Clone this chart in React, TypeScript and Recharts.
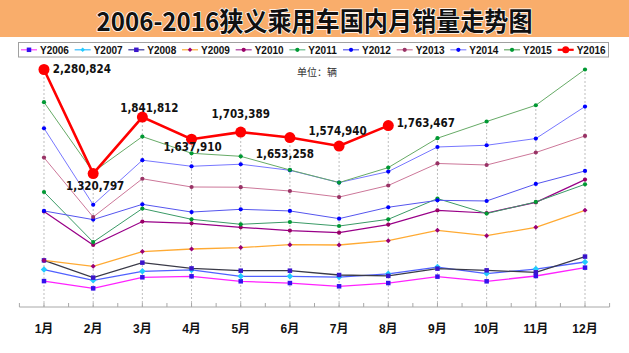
import React from 'react';
import { LineChart, Line, XAxis, YAxis, ReferenceLine, LabelList } from 'recharts';

const months = ['1月', '2月', '3月', '4月', '5月', '6月', '7月', '8月', '9月', '10月', '11月', '12月'];

const y2006 = [329000, 262000, 364000, 373000, 327000, 311000, 281000, 311000, 370000, 327000, 376000, 453000];
const y2007 = [435000, 336000, 419000, 432000, 373000, 373000, 366000, 396000, 458000, 398000, 440000, 505000];
const y2008 = [520000, 361000, 499000, 446000, 425000, 425000, 385000, 377000, 444000, 428000, 410000, 555000];
const y2009 = [520000, 465000, 601000, 625000, 638000, 665000, 662000, 702000, 797000, 748000, 825000, 982000];
const y2010 = [972000, 662000, 878000, 862000, 825000, 795000, 776000, 850000, 982000, 957000, 1055000, 1265000];
const y2011 = [1151000, 689000, 998000, 899000, 853000, 874000, 837000, 899000, 1090000, 952000, 1059000, 1222000];
const y2012 = [976000, 896000, 1037000, 966000, 991000, 976000, 905000, 1010000, 1074000, 1068000, 1225000, 1345000];
const y2013 = [1468000, 920000, 1273000, 1197000, 1195000, 1160000, 1104000, 1211000, 1414000, 1400000, 1515000, 1668000];
const y2014 = [1739000, 1033000, 1444000, 1388000, 1407000, 1351000, 1238000, 1339000, 1566000, 1582000, 1644000, 1939000];
const y2015 = [1979000, 1335000, 1662000, 1508000, 1480000, 1354000, 1238000, 1376000, 1647000, 1801000, 1951000, 2281000];
const y2016 = [2280824, 1320797, 1841812, 1637910, 1703389, 1653258, 1574940, 1763467];

const Y_DOMAIN: [number, number] = [90000, 2350000];

type Shape = 'square' | 'diamond' | 'circle';
interface Series {
  key: string;
  name: string;
  values: number[];
  line: string;
  legendLine: string;
  marker: string;
  shape: Shape;
  size: number;
  width: number;
}

const SERIES: Series[] = [
  { key: 'y2006', name: 'Y2006', values: y2006, line: '#ff22ff', legendLine: '#ff44ff', marker: '#3311ee', shape: 'square', size: 4.5, width: 1.3 },
  { key: 'y2007', name: 'Y2007', values: y2007, line: '#5060ff', legendLine: '#33bbff', marker: '#22ccff', shape: 'diamond', size: 6.5, width: 1.3 },
  { key: 'y2008', name: 'Y2008', values: y2008, line: '#3a3a48', legendLine: '#333399', marker: '#3a14cc', shape: 'square', size: 4.5, width: 1.3 },
  { key: 'y2009', name: 'Y2009', values: y2009, line: '#ffaa33', legendLine: '#ffaa33', marker: '#990077', shape: 'diamond', size: 5, width: 1.3 },
  { key: 'y2010', name: 'Y2010', values: y2010, line: '#990088', legendLine: '#aa3399', marker: '#990066', shape: 'circle', size: 4.2, width: 1.2 },
  { key: 'y2011', name: 'Y2011', values: y2011, line: '#3a9a66', legendLine: '#66bb88', marker: '#009933', shape: 'circle', size: 4.2, width: 1 },
  { key: 'y2012', name: 'Y2012', values: y2012, line: '#5555ee', legendLine: '#5555ee', marker: '#0000ff', shape: 'circle', size: 4.2, width: 1 },
  { key: 'y2013', name: 'Y2013', values: y2013, line: '#cc7799', legendLine: '#cc7799', marker: '#993366', shape: 'circle', size: 4.2, width: 1 },
  { key: 'y2014', name: 'Y2014', values: y2014, line: '#7777ff', legendLine: '#8888ff', marker: '#0000ff', shape: 'circle', size: 4.2, width: 1 },
  { key: 'y2015', name: 'Y2015', values: y2015, line: '#66aa66', legendLine: '#66aa66', marker: '#009933', shape: 'circle', size: 4.2, width: 1 },
  { key: 'y2016', name: 'Y2016', values: y2016, line: '#ff0000', legendLine: '#ff0000', marker: '#ff0000', shape: 'circle', size: 11, width: 2.6 },
];

const rows = months.map((label, i) => {
  const row: Record<string, any> = { m: i + 1, label };
  SERIES.forEach((s) => {
    row[s.key] = s.values[i] ?? null;
  });
  return row;
});

const monthMax = months.map((_, i) =>
  Math.max(...SERIES.map((s) => (s.values[i] == null ? -Infinity : s.values[i])))
);

const xTicks = Array.from({ length: months.length * 2 + 1 }, (_, k) => 0.5 + k * 0.5);

// label placement style (offsets relative to each red point)
const redLabelStyle = [
  { dx: 8.7, dy: 0, anchor: 'start' },
  { dx: 2, dy: 12.5, anchor: 'middle' },
  { dx: 7, dy: -9.5, anchor: 'middle' },
  { dx: 1, dy: 8, anchor: 'middle' },
  { dx: 0, dy: -18.5, anchor: 'middle' },
  { dx: -5, dy: 16, anchor: 'middle' },
  { dx: -1.5, dy: -15.5, anchor: 'middle' },
  { dx: 8.4, dy: -3, anchor: 'start' },
];

function markerEl(shape: Shape, x: number, y: number, size: number, fill: string, key?: string) {
  const h = size / 2;
  if (shape === 'square') return <rect key={key} x={x - h} y={y - h} width={size} height={size} fill={fill} />;
  if (shape === 'diamond')
    return <path key={key} d={`M${x} ${y - h}L${x + h} ${y}L${x} ${y + h}L${x - h} ${y}Z`} fill={fill} />;
  return <circle key={key} cx={x} cy={y} r={h} fill={fill} />;
}

function makeDot(s: Series) {
  return (p: any) => {
    const k = `${s.key}-${p.index}`;
    if (p.cx == null || p.cy == null || p.value == null || Number.isNaN(p.cy)) return <g key={k} />;
    return markerEl(s.shape, p.cx, p.cy, s.size, s.marker, k);
  };
}

const renderMonthTick = (p: any) => {
  const v = p.payload?.value;
  if (!Number.isInteger(v)) return <g />;
  return (
    <text
      x={p.x}
      y={p.y}
      dy={30}
      textAnchor="middle"
      fontSize={12}
      fontWeight="bold"
      fontFamily="'Liberation Sans', 'Noto Sans CJK SC', sans-serif"
      fill="#111"
    >
      {months[v - 1]}
    </text>
  );
};

const renderRedLabel = (p: any) => {
  const st = redLabelStyle[p.index];
  if (!st || p.value == null) return <g />;
  return (
    <text
      x={p.x + st.dx}
      y={p.y + st.dy}
      textAnchor={st.anchor as any}
      dominantBaseline="central"
      fontSize={11.5}
      fontWeight="bold"
      fontFamily="'DejaVu Sans Condensed', 'DejaVu Sans', sans-serif"
      fill="#111"
    >
      {Number(p.value).toLocaleString('en-US')}
    </text>
  );
};

const LEGEND_X0 = 18.5;
const LEGEND_W = 590;
const LEGEND_TEXT0 = 40;
const LEGEND_STEP = 53.67;

export default function App() {
  return (
    <div style={{ position: 'absolute', left: 0, top: 0, width: 629, height: 353, background: '#fff' }}>
      <div style={{ position: 'absolute', left: 0, top: 0 }}>
        <LineChart width={629} height={353} data={rows} margin={{ top: 62, right: 19.4, bottom: 16, left: 19.4 }}>
          <XAxis
            type="number"
            dataKey="m"
            domain={[0.5, 12.5]}
            allowDataOverflow
            ticks={xTicks}
            interval={0}
            tickSize={-4}
            tickMargin={0}
            height={30}
            axisLine={{ stroke: '#a8a8a8' }}
            tickLine={{ stroke: '#a8a8a8' }}
            tick={renderMonthTick}
          />
          <YAxis hide type="number" domain={Y_DOMAIN} allowDataOverflow />
          {months.map((_, i) => (
            <ReferenceLine
              key={`drop-${i}`}
              segment={[
                { x: i + 1, y: Y_DOMAIN[0] },
                { x: i + 1, y: monthMax[i] },
              ]}
              stroke="#bdbdbd"
              strokeDasharray="2 2"
            />
          ))}
          {SERIES.map((s) => (
            <Line
              key={s.key}
              type="linear"
              dataKey={s.key}
              name={s.name}
              stroke={s.line}
              strokeWidth={s.width}
              dot={makeDot(s)}
              activeDot={false}
              isAnimationActive={false}
            >
              {s.key === 'y2016' ? <LabelList dataKey={s.key} content={renderRedLabel} /> : null}
            </Line>
          ))}
        </LineChart>
      </div>
      <svg width={629} height={353} style={{ position: 'absolute', left: 0, top: 0, pointerEvents: 'none' }}>
        <rect x={0} y={0} width={629} height={37} fill="#f9ad6b" />
        <text
          x={314.5}
          y={19}
          textAnchor="middle"
          dominantBaseline="central"
          fontSize={26}
          fontWeight="bold"
          fontFamily="'Noto Sans CJK SC', sans-serif"
          fill="#111"
          stroke="#ffffff"
          strokeWidth={1.5}
          paintOrder="stroke"
          textLength={436}
          lengthAdjust="spacingAndGlyphs"
        >
          2006-2016狭义乘用车国内月销量走势图
        </text>
        <rect x={LEGEND_X0} y={42.5} width={LEGEND_W} height={14.5} fill="#fff" stroke="#a0a0a0" />
        {SERIES.map((s, i) => {
          const tx = LEGEND_TEXT0 + i * LEGEND_STEP;
          const lx1 = tx - 19;
          const lx2 = tx - 3;
          const mx = (lx1 + lx2) / 2;
          const isRed = s.key === 'y2016';
          return (
            <g key={`lg-${s.key}`}>
              <line x1={lx1} y1={49.8} x2={lx2} y2={49.8} stroke={s.legendLine} strokeWidth={isRed ? 2.2 : 1.2} />
              {markerEl(s.shape, mx, 49.8, isRed ? 7 : Math.min(s.size, 4.5), s.marker)}
              <text
                x={tx}
                y={53.5}
                fontSize={10}
                fontWeight="bold"
                fontFamily="'Liberation Sans', sans-serif"
                fill="#111"
              >
                {s.name}
              </text>
            </g>
          );
        })}
        <text x={297} y={71.7} dominantBaseline="central" fontSize={10} fontFamily="'Noto Sans CJK SC', sans-serif" fill="#333">
          单位：辆
        </text>
      </svg>
    </div>
  );
}
